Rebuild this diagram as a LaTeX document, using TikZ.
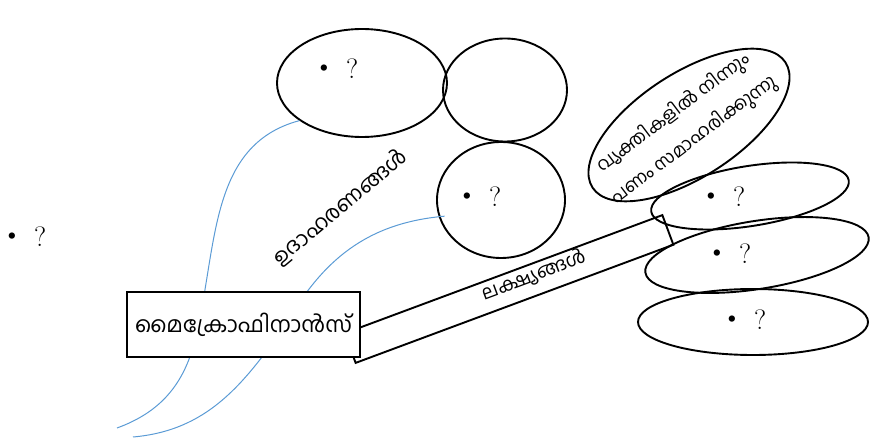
\documentclass[tikz,border=0pt]{standalone}
\usepackage{fontspec}
\usepackage{graphicx}
\newfontfamily\mlfont[Script=Malayalam]{Hind Kochi}
\usetikzlibrary{shapes.geometric}
\definecolor{curveblue}{RGB}{91,155,213}
\newcommand\dotq{\raisebox{0.12em}{\textbullet}\hspace{12pt}?}
\begin{document}
\begin{tikzpicture}[x=1pt,y=-1pt,
  oval/.style={ellipse, draw, line width=1.9pt, inner sep=0pt},
  qm/.style={font=\fontsize{28}{30}\selectfont, inner sep=0pt},
  ml/.style={font=\mlfont\fontsize{#1}{34}\selectfont, inner sep=0pt},
  link/.style={draw=curveblue, line width=1pt},
  boxed/.style={draw, line width=1.9pt, inner sep=0pt}]
\useasboundingbox (0,0) rectangle (870,438);

% ellipses
\node[oval, minimum width=170pt, minimum height=108pt] (e1) at (362,83) {};
\node[oval, minimum width=124pt, minimum height=103pt] (e2) at (505,90) {};
\node[oval, minimum width=128pt, minimum height=116pt] (e3) at (501,200) {};
\node[oval, minimum width=230pt, minimum height=104pt, rotate=33] (e4) at (689,125) {};
\node[oval, minimum width=200pt, minimum height=60pt, rotate=9] (e5) at (750,196) {};
\node[oval, minimum width=226pt, minimum height=68pt, rotate=9] (e6) at (757,255) {};
\node[oval, minimum width=230pt, minimum height=66pt] (e7) at (753,322) {};

% blue curves
\coordinate (a0) at (117,428);
\coordinate (a1) at (195,340);
\coordinate (b0) at (133,437);
\coordinate (b1) at (286,324);
\draw[link] (a0) to[out=20,in=256] (a1) to[out=76,in=195] (e1.211);
\draw[link, shorten >=-6pt] (b0) to[out=5,in=235] (b1) to[out=60,in=185] (e3.195);

% band
\node[boxed, minimum width=339pt, minimum height=31.6pt, rotate=20.4] (band) at (509,289) {};

% box
\node[boxed, fill=white, minimum width=233pt, minimum height=65pt,
      font=\mlfont\fontsize{22}{24}\selectfont] (box) at (243.5,324.5) {മൈക്രോഫിനാൻസ്};

% labels
\node[ml=19, rotate=20.4] (goal) at (534,275) {ലക്ഷ്യങ്ങൾ};
\node[ml=21, rotate=40] (ex) at (340,207) {ഉദാഹരണങ്ങൾ};
\node[ml=18, rotate=37, align=center] (t4) at (684,127) {വ്യക്തികളിൽ നിന്നും\\പണം സമാഹരിക്കുന്നു};

% dot-question marks
\node[qm] (q0) at (24,237) {\dotq};
\node[qm] (q1) at (336,69) {\dotq};
\node[qm] (q3) at (479,197) {\dotq};
\node[qm] (q5) at (723,197) {\dotq};
\node[qm] (q6) at (729,254) {\dotq};
\node[qm] (q7) at (744,320) {\dotq};
\end{tikzpicture}
\end{document}
